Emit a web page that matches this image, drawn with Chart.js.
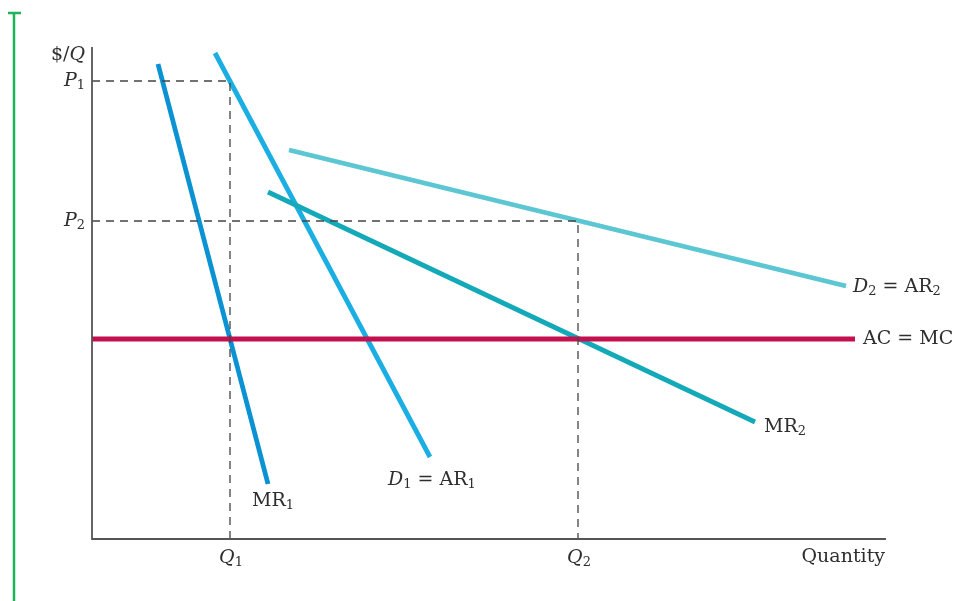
<!DOCTYPE html>
<html>
<head>
<meta charset="utf-8">
<script src="https://cdn.jsdelivr.net/npm/chart.js@4/dist/chart.umd.min.js"></script>
<style>
  body { margin: 0; background: #fff; }
  canvas { display: block; }
</style>
</head>
<body>
<canvas id="chart" width="956" height="601"></canvas>
<script>
// values (quantity / price units, origin at the axes corner)
const xMax = 794;
const yMax = 492;

const mr1X = [66, 176];
const mr1Y = [475, 55];
const d1X = [123, 338];
const d1Y = [486, 82];
const d2X = [197, 754];
const d2Y = [389, 253];
const mr2X = [176, 663];
const mr2Y = [347, 117];
const acX = [0, 763];
const acY = [200, 200];

const q1 = 138;
const q2 = 486;
const p1 = 458;
const p2 = 318;

const pts = (xs, ys) => xs.map((x, i) => ({ x: x, y: ys[i] }));

const solid = (data, color) => ({
  data: data,
  borderColor: color,
  borderWidth: 4.8,
  showLine: true,
  pointRadius: 0,
  borderCapStyle: 'butt'
});

const dashed = (data) => ({
  data: data,
  borderColor: '#444',
  borderWidth: 1.3,
  borderDash: [8, 6],
  showLine: true,
  pointRadius: 0
});

// text labels placed in data units
const labels = [
  { t: '$/', i: 'Q', s: '', x: -7, y: 484, align: 'right' },
  { t: '', i: 'P', s: '1', x: -7, y: p1, align: 'right' },
  { t: '', i: 'P', s: '2', x: -7, y: p2, align: 'right' },
  { t: '', i: 'Q', s: '1', x: q1 + 1, y: -19, align: 'center' },
  { t: '', i: 'Q', s: '2', x: q2 + 1, y: -19, align: 'center' },
  { t: 'Quantity', i: '', s: '', x: 793, y: -18, align: 'right' },
  { t: 'MR', i: '', s: '1', x: 160, y: 38, align: 'left' },
  { t: ' = AR', i: 'D', s: '1', x: 296, y: 59, align: 'left', sub2: true },
  { t: ' = AR', i: 'D', s: '2', x: 761, y: 252, align: 'left', sub2: true },
  { t: 'AC = MC', i: '', s: '', x: 771, y: 200, align: 'left' },
  { t: 'MR', i: '', s: '2', x: 672, y: 112, align: 'left' }
];

const decor = {
  id: 'decor',
  afterDraw(chart) {
    const ctx = chart.ctx;
    const a = chart.chartArea;
    const xs = chart.scales.x, ys = chart.scales.y;
    ctx.save();
    // green bar at left
    ctx.strokeStyle = '#1db45a';
    ctx.lineWidth = 2.5;
    ctx.beginPath();
    ctx.moveTo(14, 13); ctx.lineTo(14, 601);
    ctx.moveTo(8, 13); ctx.lineTo(21, 13);
    ctx.stroke();
    // axes
    ctx.strokeStyle = '#555';
    ctx.lineWidth = 1.8;
    ctx.beginPath();
    ctx.moveTo(a.left, a.top); ctx.lineTo(a.left, a.bottom);
    ctx.lineTo(a.right, a.bottom);
    ctx.stroke();
    // labels
    ctx.fillStyle = '#2e2e2e';
    ctx.textBaseline = 'middle';
    const main = '19px "DejaVu Serif", "Liberation Serif", serif';
    const ital = 'italic 19px "DejaVu Serif", "Liberation Serif", serif';
    const sub = '13px "DejaVu Serif", "Liberation Serif", serif';
    labels.forEach(l => {
      const px = xs.getPixelForValue(l.x);
      const py = ys.getPixelForValue(l.y);
      let pieces = [];
      if (l.sub2) {
        pieces = [[l.i, ital, 0], [l.s, sub, 5], [l.t, main, 0], [l.s, sub, 5]];
      } else if (l.t.startsWith('$')) {
        pieces = [[l.t, main, 0], [l.i, ital, 0]];
      } else {
        pieces = [[l.i, ital, 0], [l.t, main, 0], [l.s, sub, 5]];
      }
      pieces = pieces.filter(p => p[0]);
      let w = 0;
      pieces.forEach(p => { ctx.font = p[1]; p.push(ctx.measureText(p[0]).width); w += p[3]; });
      let x = l.align === 'right' ? px - w : l.align === 'center' ? px - w / 2 : px;
      ctx.textAlign = 'left';
      pieces.forEach(p => {
        ctx.font = p[1];
        ctx.fillText(p[0], x, py + p[2]);
        x += p[3];
      });
    });
    ctx.restore();
  }
};

new Chart(document.getElementById('chart'), {
  type: 'scatter',
  data: {
    datasets: [
      dashed([{ x: 0, y: p1 }, { x: q1, y: p1 }, { x: q1, y: 0 }]),
      dashed([{ x: 0, y: p2 }, { x: q2, y: p2 }, { x: q2, y: 0 }]),
      solid(pts(acX, acY), '#c4104f'),
      solid(pts(d2X, d2Y), '#5cc6d3'),
      solid(pts(mr2X, mr2Y), '#13a9b8'),
      solid(pts(d1X, d1Y), '#1aaee2'),
      solid(pts(mr1X, mr1Y), '#0a92d2')
    ]
  },
  options: {
    responsive: false,
    animation: false,
    layout: { padding: { left: 92, right: 70, top: 47, bottom: 62 } },
    plugins: { legend: { display: false }, tooltip: { enabled: false } },
    scales: {
      x: { type: 'linear', min: 0, max: xMax, display: false },
      y: { type: 'linear', min: 0, max: yMax, display: false }
    }
  },
  plugins: [decor]
});
</script>
</body>
</html>
